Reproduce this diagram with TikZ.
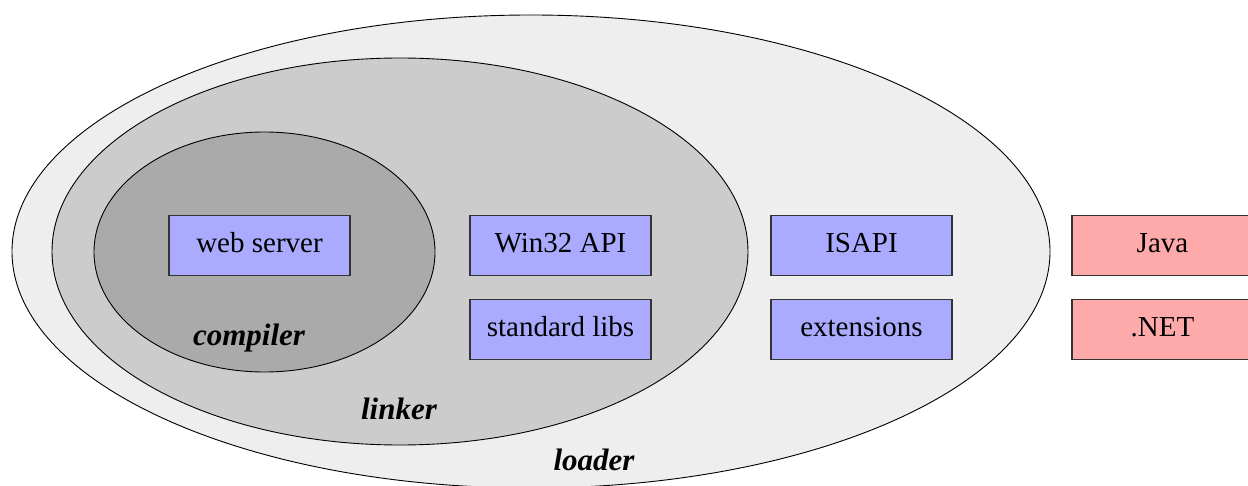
\documentclass[tikz,border=0pt]{standalone}
\usepackage{fontspec}
\setmainfont{Liberation Serif}
\usetikzlibrary{shapes.geometric}
\definecolor{loaderfill}{HTML}{EEEEEE}
\definecolor{linkerfill}{HTML}{CCCCCC}
\definecolor{compilerfill}{HTML}{AAAAAA}
\definecolor{nativefill}{HTML}{AAAAFF}
\definecolor{foreignfill}{HTML}{FFAAAA}
\tikzset{
  layer/.style={ellipse, draw=black, line width=0.9pt, inner sep=0pt},
  component/.style={rectangle, draw=black!80, line width=1.2pt, minimum width=181pt,
    minimum height=60pt, inner sep=0pt, text height=20pt, text depth=6pt,
    font=\fontsize{29}{33}\selectfont},
  native/.style={component, fill=nativefill},
  foreign/.style={component, fill=foreignfill},
  layername/.style={font=\fontsize{31}{35}\selectfont\bfseries\itshape}
}
\begin{document}
\begin{tikzpicture}[x=1pt,y=-1pt]
  \useasboundingbox (0,0) rectangle (1248,486);
  \clip (0,0) rectangle (1248,486);
  \fill[white] (0,0) rectangle (1248,486);
  % nested layers
  \node[layer, fill=loaderfill, minimum width=1038pt, minimum height=473pt] (loader) at (531,251.5) {};
  \node[layer, fill=linkerfill, minimum width=696pt, minimum height=387pt] (linker) at (400,251.5) {};
  \node[layer, fill=compilerfill, minimum width=341pt, minimum height=240pt] (compiler) at (264.5,252) {};
  % layer names
  \node[layername] (compilername) at (249,338) {compiler};
  \node[layername] (linkername) at (399,409) {linker};
  \node[layername] (loadername) at (594,460) {loader};
  % components
  \node[native] (webserver) at (259.5,245.5) {web server};
  \node[native] (win32) at (560.5,245.5) {Win32 API};
  \node[native] (stdlibs) at (560.5,329.5) {standard libs};
  \node[native] (isapi) at (861.5,245.5) {ISAPI};
  \node[native] (extensions) at (861.5,329.5) {extensions};
  \node[foreign] (java) at (1162.5,245.5) {Java};
  \node[foreign] (dotnet) at (1162.5,329.5) {.NET};
\end{tikzpicture}
\end{document}
